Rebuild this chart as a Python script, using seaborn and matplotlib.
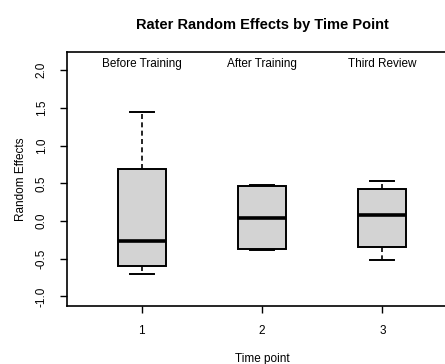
import numpy as np
import pandas as pd
import matplotlib
matplotlib.use("Agg")
import matplotlib.pyplot as plt
import matplotlib.transforms as mtransforms
import seaborn as sns

# ---- data ----
time_points = ["1", "2", "3"]
phase_labels = ["Before Training", "After Training", "Third Review"]
lower_whisker = [-0.70, -0.39, -0.52]
q1 = [-0.60, -0.37, -0.34]
median = [-0.26, 0.04, 0.08]
q3 = [0.69, 0.46, 0.42]
upper_whisker = [1.44, 0.48, 0.53]
y_ticks = [-1.0, -0.5, 0.0, 0.5, 1.0, 1.5, 2.0]

rows = []
for i, tp in enumerate(time_points):
    for v in (lower_whisker[i], q1[i], median[i], q3[i], upper_whisker[i]):
        rows.append({"time": tp, "value": v})
df = pd.DataFrame(rows)

plt.rcParams["font.family"] = ["Liberation Sans", "DejaVu Sans"]
plt.rcParams["axes.unicode_minus"] = False

fig = plt.figure(figsize=(4.45, 3.64), dpi=100)
ax = fig.add_axes([67 / 445, 58 / 364, 390 / 445, 254 / 364])

sns.boxplot(
    data=df, x="time", y="value", order=time_points, ax=ax,
    width=0.4, color="#d3d3d3", saturation=1, linecolor="black",
    linewidth=1.3, whis=(0, 100), showfliers=False,
    medianprops=dict(linewidth=2.6, color="black"),
    whiskerprops=dict(linestyle=(0, (3, 2)), linewidth=1.2, color="black"),
    capprops=dict(linewidth=1.4, color="black"),
    boxprops=dict(edgecolor="black", linewidth=1.4),
)

ax.set_xlim(-0.62, 2.62)
ax.set_ylim(-1.127, 2.24)
ax.set_yticks(y_ticks)
ax.set_yticklabels([f"{t:.1f}" for t in y_ticks])
for lab in ax.get_yticklabels():
    lab.set_rotation(90)
    lab.set_va("center")

ax.tick_params(axis="both", direction="out", length=5, width=1, colors="black", labelsize=8.5)
ax.tick_params(axis="y", pad=9)
ax.tick_params(axis="x", pad=9)

for sp in ax.spines.values():
    sp.set_visible(True)
    sp.set_linewidth(1.2)
    sp.set_color("black")

ax.set_xlabel("Time point", fontsize=8.5, labelpad=11)
ax.set_ylabel("Random Effects", fontsize=8.5, labelpad=6)

trans = mtransforms.blended_transform_factory(ax.transData, ax.transAxes)
for i, lab in enumerate(phase_labels):
    ax.text(i, 0.953, lab, transform=trans, ha="center", va="center", fontsize=8.5)

fig.text(262 / 445, 1 - 25 / 364, "Rater Random Effects by Time Point",
         ha="center", va="center", fontsize=10.5, fontweight="bold")

fig.savefig("out.png", dpi=100)
